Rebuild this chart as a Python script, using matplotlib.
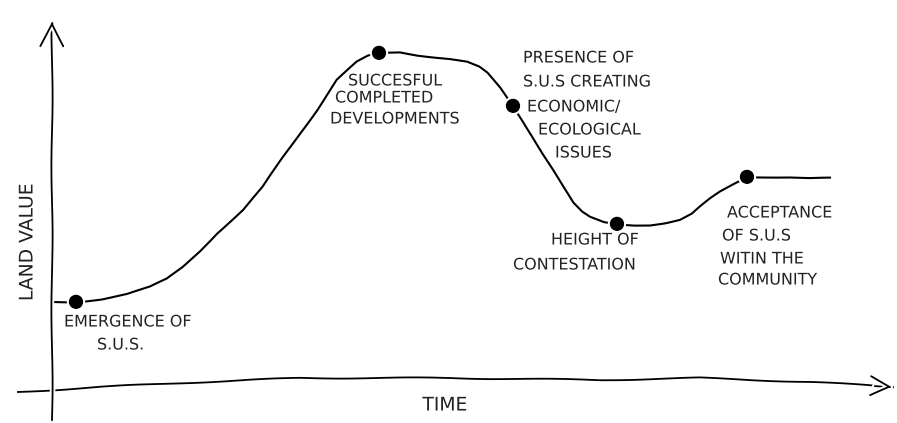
import matplotlib
matplotlib.use('Agg')
import matplotlib.pyplot as plt
import numpy as np

# land value curve (time, value in sketch units)
time = [0, 24, 50, 75, 98, 115, 131, 148, 165, 191, 211, 231, 248, 265, 285,
        305, 316, 327, 348, 365, 381, 398, 415, 427, 435, 448, 461, 471, 481,
        491, 501, 511, 521, 530, 538, 552, 565, 582, 598, 614, 628, 640, 648,
        658, 668, 682, 695, 716, 738, 758, 778]
value = [83, 83, 86, 91, 98, 106, 118, 134, 152, 175, 198, 228, 252, 275, 305,
         323, 329, 332, 333, 330, 328, 326, 323, 318, 312, 297, 279, 264, 248,
         231, 215, 198, 182, 173, 168, 163, 161, 160, 160, 162, 165, 171, 178,
         186, 193, 201, 208, 208, 208, 207, 207]

# key events (dots)
event_time = [24, 327, 461, 565, 695]
event_value = [83, 332, 279, 161, 208]

# annotation lines: text, time, value (left edge, vertical centre)
label_lines = [
    ("EMERGENCE OF", 12, 63), ("S.U.S.", 45, 40),
    ("SUCCESFUL", 296, 304), ("COMPLETED", 283, 287), ("DEVELOPMENTS", 278, 266),
    ("PRESENCE OF", 471, 327), ("S.U.S CREATING", 471, 303),
    ("ECONOMIC/", 475, 278), ("ECOLOGICAL", 486, 255), ("ISSUES", 503, 232),
    ("HEIGHT OF", 499, 145), ("CONTESTATION", 461, 120),
    ("ACCEPTANCE", 675, 172), ("OF S.U.S", 670, 149),
    ("WITIN THE", 668, 126), ("COMMUNITY", 666, 105),
]

# hand-drawn horizontal axis (slightly wavy)
xaxis_t = [-34, 48, 150, 248, 398, 548, 648, 760, 841]
xaxis_v = [-7, -2, 3, 7, 7, 5, 7, 3, -2]

with plt.xkcd(scale=0.6, length=150, randomness=1.5):
    plt.rcParams['font.family'] = ['DejaVu Sans']
    fig = plt.figure(figsize=(8.97, 4.23), dpi=100)
    ax = fig.add_axes([0, 0, 1, 1])
    ax.set_xlim(-52, 845)
    ax.set_ylim(-38, 385)
    ax.axis('off')

    # axes
    ax.annotate('', xy=(0, 367), xytext=(0, -38),
                arrowprops=dict(arrowstyle='->,head_length=1.2,head_width=0.6',
                                lw=1.3, color='black'))
    ax.plot(xaxis_t, xaxis_v, color='black', lw=1.3)
    ax.annotate('', xy=(843, -2), xytext=(820, -1),
                arrowprops=dict(arrowstyle='->,head_length=1.0,head_width=0.5',
                                lw=1.3, color='black'))

    # curve and points
    ax.plot(time, value, color='black', lw=1.5)
    ax.plot(event_time, event_value, 'o', color='black', ms=9)

    for txt, t, v in label_lines:
        ax.text(t, v, txt, fontsize=11.5, ha='left', va='center', color='#222222')

    ax.text(393, -20, "TIME", fontsize=13.5, ha='center', va='center', color='#222222')
    ax.text(-25, 143, "LAND VALUE", fontsize=13.5, ha='center', va='center',
            rotation=90, color='#222222')

    fig.savefig('out.png', dpi=100)
